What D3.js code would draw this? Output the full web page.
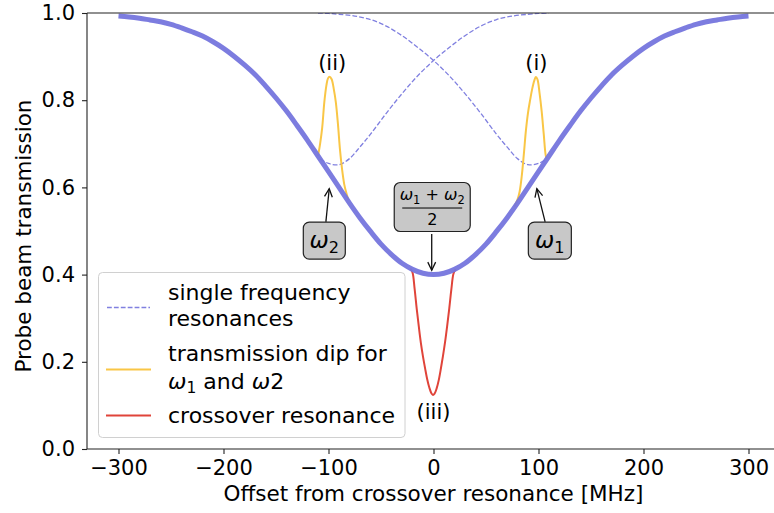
<!DOCTYPE html>
<html>
<head>
<meta charset="utf-8">
<script src="https://cdn.jsdelivr.net/npm/d3@7"></script>
<style>
  body { margin: 0; background: #fff; }
  svg { display: block; }
  text { font-family: "DejaVu Sans", sans-serif; fill: #000; }
</style>
</head>
<body>
<svg id="chart" width="774" height="513"></svg>
<script>
// Doppler-broadened probe transmission (MHz offset, transmission)
const dopplerX = [-300,-290,-280,-270,-260,-250,-240,-230,-220,-210,-200,-190,-180,-170,-160,-150,-140,-130,-120,-110,-100,-90,-80,-70,-60,-50,-40,-30,-20,-10,0,
                  10,20,30,40,50,60,70,80,90,100,110,120,130,140,150,160,170,180,190,200,210,220,230,240,250,260,270,280,290,300];
const dopplerY = [0.993,0.991,0.988,0.984,0.980,0.974,0.966,0.957,0.947,0.934,0.919,0.901,0.881,0.859,0.833,0.805,0.775,0.742,0.708,0.672,0.636,0.600,0.564,0.530,0.499,0.470,0.446,0.426,0.412,0.403,0.400,
                  0.403,0.412,0.426,0.446,0.470,0.499,0.530,0.564,0.600,0.636,0.672,0.708,0.742,0.775,0.805,0.833,0.859,0.881,0.901,0.919,0.934,0.947,0.957,0.966,0.974,0.980,0.984,0.988,0.991,0.993];

// Single frequency resonances (dashed), one around each laser frequency
const singleHighX = [-110,-100,-90,-75,-60,-45,-30,-15,0,15,30,45,60,70,80,90,100,108];
const singleHighY = [1.000,0.999,0.997,0.993,0.985,0.970,0.948,0.921,0.891,0.856,0.815,0.770,0.722,0.693,0.666,0.652,0.655,0.665];
const singleLowX  = [-108,-100,-90,-80,-70,-60,-45,-30,-15,0,15,30,45,60,75,90,100,110];
const singleLowY  = [0.665,0.655,0.652,0.666,0.693,0.722,0.770,0.815,0.856,0.891,0.921,0.948,0.970,0.985,0.993,0.997,0.999,1.000];

// Transmission peaks at omega_1 (i) and omega_2 (ii)
const peak1X = [77,80,82,84,86,88,90,92,94,96,97.5,99,101,103,105,107,108];
const peak1Y = [0.556,0.572,0.590,0.625,0.675,0.730,0.771,0.800,0.826,0.845,0.853,0.848,0.816,0.775,0.722,0.672,0.666];
const peak2X = [-110,-108,-106,-104,-102,-100.5,-99,-97,-95,-93,-91,-89,-87,-85,-83,-81];
const peak2Y = [0.672,0.700,0.737,0.795,0.834,0.850,0.854,0.848,0.826,0.795,0.745,0.685,0.640,0.607,0.587,0.571];

// Crossover resonance dip (iii)
const crossX = [-22,-20,-18,-16,-14,-12,-10,-8,-6,-4,-2,-0.5,1,3,5,7,9,11,13,15,17,19,21];
const crossY = [0.414,0.405,0.368,0.322,0.281,0.243,0.212,0.185,0.160,0.141,0.128,0.124,0.127,0.139,0.158,0.184,0.213,0.245,0.282,0.322,0.366,0.402,0.413];

// Axis ticks
const xTicks = [-300,-200,-100,0,100,200,300];
const yTicks = [0.0,0.2,0.4,0.6,0.8,1.0];

const COL_MAIN = "#7575dd";
const COL_DASH = "#8080e0";
const COL_PEAK = "#f9c646";
const COL_CROSS = "#e0443a";

const svg = d3.select("#chart");
const W = 774, H = 513;
svg.append("rect").attr("width", W).attr("height", H).attr("fill", "#fff");

const plotL = 87, plotR = 780, plotT = 13, plotB = 449;
const x = d3.scaleLinear().domain([-330, 330]).range([plotL, plotR]);
const y = d3.scaleLinear().domain([0, 1]).range([plotB, plotT]);

svg.append("defs").append("clipPath").attr("id", "plotclip")
  .append("rect").attr("x", plotL).attr("y", plotT).attr("width", plotR - plotL).attr("height", plotB - plotT);

const plot = svg.append("g").attr("clip-path", "url(#plotclip)");

const pairs = (xs, ys) => xs.map((v, i) => [v, ys[i]]);
const line = d3.line().x(d => x(d[0])).y(d => y(d[1])).curve(d3.curveCatmullRom.alpha(0.5));

// dashed single-frequency resonances
[[singleHighX, singleHighY], [singleLowX, singleLowY]].forEach(([xs, ys]) => {
  plot.append("path").datum(pairs(xs, ys))
    .attr("d", line).attr("fill", "none")
    .attr("stroke", COL_DASH).attr("stroke-width", 1.3)
    .attr("stroke-dasharray", "4.8,2.1");
});

// transmission peaks
[[peak1X, peak1Y], [peak2X, peak2Y]].forEach(([xs, ys]) => {
  plot.append("path").datum(pairs(xs, ys))
    .attr("d", line).attr("fill", "none")
    .attr("stroke", COL_PEAK).attr("stroke-width", 2);
});

// crossover dip
plot.append("path").datum(pairs(crossX, crossY))
  .attr("d", line).attr("fill", "none")
  .attr("stroke", COL_CROSS).attr("stroke-width", 2);

// Doppler profile on top
plot.append("path").datum(pairs(dopplerX, dopplerY))
  .attr("d", line).attr("fill", "none")
  .attr("stroke", COL_MAIN).attr("stroke-width", 5).attr("stroke-opacity", 0.95)
  .attr("stroke-linecap", "butt");

// axes
const xAxis = d3.axisBottom(x).tickValues(xTicks).tickSize(5).tickPadding(6)
  .tickFormat(d => d < 0 ? "\u2212" + Math.abs(d) : String(d));
const gx = svg.append("g").attr("transform", `translate(0,${plotB})`).call(xAxis);
gx.select(".domain").remove();
gx.selectAll("text").attr("font-size", 21).attr("font-family", "DejaVu Sans");
gx.selectAll("line").attr("stroke", "#222").attr("stroke-width", 1.1);

const yAxis = d3.axisLeft(y).tickValues(yTicks).tickSize(5).tickPadding(7)
  .tickFormat(d3.format(".1f"));
const gy = svg.append("g").attr("transform", `translate(${plotL},0)`).call(yAxis);
gy.select(".domain").remove();
gy.selectAll("text").attr("font-size", 21).attr("font-family", "DejaVu Sans");
gy.selectAll("line").attr("stroke", "#222").attr("stroke-width", 1.1);

// spines
const spine = svg.append("g").attr("stroke", "#222").attr("stroke-width", 1.1);
spine.append("line").attr("x1", plotL).attr("x2", plotL).attr("y1", plotT).attr("y2", plotB);
spine.append("line").attr("x1", plotL).attr("x2", W).attr("y1", plotB).attr("y2", plotB);
spine.append("line").attr("x1", plotL).attr("x2", W).attr("y1", plotT).attr("y2", plotT);

// axis titles
svg.append("text").attr("x", x(0)).attr("y", 501).attr("text-anchor", "middle")
  .attr("font-size", 21.5).text("Offset from crossover resonance [MHz]");
svg.append("text").attr("transform", `translate(31,${(plotT + plotB) / 2 + 5}) rotate(-90)`)
  .attr("text-anchor", "middle").attr("font-size", 21.5).text("Probe beam transmission");

// peak labels
const lab = (t, xv, yv) => svg.append("text").attr("x", x(xv)).attr("y", y(yv))
  .attr("text-anchor", "middle").attr("font-size", 21).text(t);
lab("(i)", 98, 0.87);
lab("(ii)", -96.5, 0.87);
lab("(iii)", 0, 0.069);

// arrows with open heads
function arrow(x1, y1, x2, y2) {
  const g = svg.append("g").attr("stroke", "#111").attr("stroke-width", 1.3).attr("fill", "none");
  g.append("line").attr("x1", x1).attr("y1", y1).attr("x2", x2).attr("y2", y2);
  const a = Math.atan2(y2 - y1, x2 - x1), L = 9, w = 0.45;
  g.append("polyline").attr("points", [
    [x2 - L * Math.cos(a - w), y2 - L * Math.sin(a - w)],
    [x2, y2],
    [x2 - L * Math.cos(a + w), y2 - L * Math.sin(a + w)]
  ].map(p => p.join(",")).join(" "));
}

function box(cx, cy, w, h) {
  svg.append("rect").attr("x", cx - w / 2).attr("y", cy - h / 2).attr("width", w).attr("height", h)
    .attr("rx", 6).attr("fill", "#c8c8c8").attr("stroke", "#222").attr("stroke-width", 1.2);
}

function omega(parent, sub, size, xPos, yPos, anchor) {
  const t = parent.append("text").attr("x", xPos).attr("y", yPos).attr("font-size", size)
    .attr("text-anchor", anchor || "middle");
  t.append("tspan").attr("font-style", "italic").text("\u03c9");
  t.append("tspan").attr("font-size", size * 0.7).attr("dy", size * 0.22).text(sub);
  return t;
}

// omega_2 annotation
arrow(x(-102.5), y(0.521), x(-99.3), y(0.597));
box(x(-104), y(0.478), 42, 37);
omega(svg, "2", 23, x(-104), y(0.478) + 7);

// omega_1 annotation
arrow(x(106.3), y(0.521), x(98.4), y(0.597));
box(x(110.8), y(0.478), 43, 37);
omega(svg, "1", 23, x(110.8), y(0.478) + 7);

// (omega_1 + omega_2)/2 annotation
arrow(x(-1.7), y(0.493), x(-1.7), y(0.41));
box(x(-1.2), y(0.555), 76, 49);
{
  const cx = x(-1.2), cy = y(0.555);
  const t = svg.append("text").attr("x", cx).attr("y", cy - 7).attr("font-size", 16).attr("text-anchor", "middle");
  t.append("tspan").attr("font-style", "italic").text("\u03c9");
  t.append("tspan").attr("font-size", 11.5).attr("dy", 3.5).text("1");
  t.append("tspan").attr("dy", -3.5).text(" + ");
  t.append("tspan").attr("font-style", "italic").text("\u03c9");
  t.append("tspan").attr("font-size", 11.5).attr("dy", 3.5).text("2");
  svg.append("line").attr("x1", cx - 30).attr("x2", cx + 30).attr("y1", cy + 1).attr("y2", cy + 1)
    .attr("stroke", "#000").attr("stroke-width", 1);
  svg.append("text").attr("x", cx).attr("y", cy + 18).attr("font-size", 16).attr("text-anchor", "middle").text("2");
}

// legend
const lg = svg.append("g");
lg.append("rect").attr("x", 98.5).attr("y", 272.5).attr("width", 306.5).attr("height", 165)
  .attr("rx", 4).attr("fill", "#fff").attr("fill-opacity", 0.8).attr("stroke", "#d0d0d0").attr("stroke-width", 1);
lg.append("line").attr("x1", 107).attr("x2", 150).attr("y1", 307.5).attr("y2", 307.5)
  .attr("stroke", COL_DASH).attr("stroke-width", 1.3).attr("stroke-dasharray", "4.8,2.1");
lg.append("line").attr("x1", 106).attr("x2", 151).attr("y1", 369.5).attr("y2", 369.5)
  .attr("stroke", COL_PEAK).attr("stroke-width", 2);
lg.append("line").attr("x1", 106).attr("x2", 151).attr("y1", 415.5).attr("y2", 415.5)
  .attr("stroke", COL_CROSS).attr("stroke-width", 2);
const lt = (s, yy) => lg.append("text").attr("x", 168).attr("y", yy).attr("font-size", 22).text(s);
lt("single frequency", 299.5);
lt("resonances", 326);
lt("transmission dip for", 360.5);
{
  const t = lg.append("text").attr("x", 168).attr("y", 388.5).attr("font-size", 22);
  t.append("tspan").attr("font-style", "italic").text("\u03c9");
  t.append("tspan").attr("font-size", 15.5).attr("dy", 4.5).text("1");
  t.append("tspan").attr("dy", -4.5).text(" and ");
  t.append("tspan").attr("font-style", "italic").text("\u03c9");
  t.append("tspan").text("2");
}
lt("crossover resonance", 423);
</script>
</body>
</html>
